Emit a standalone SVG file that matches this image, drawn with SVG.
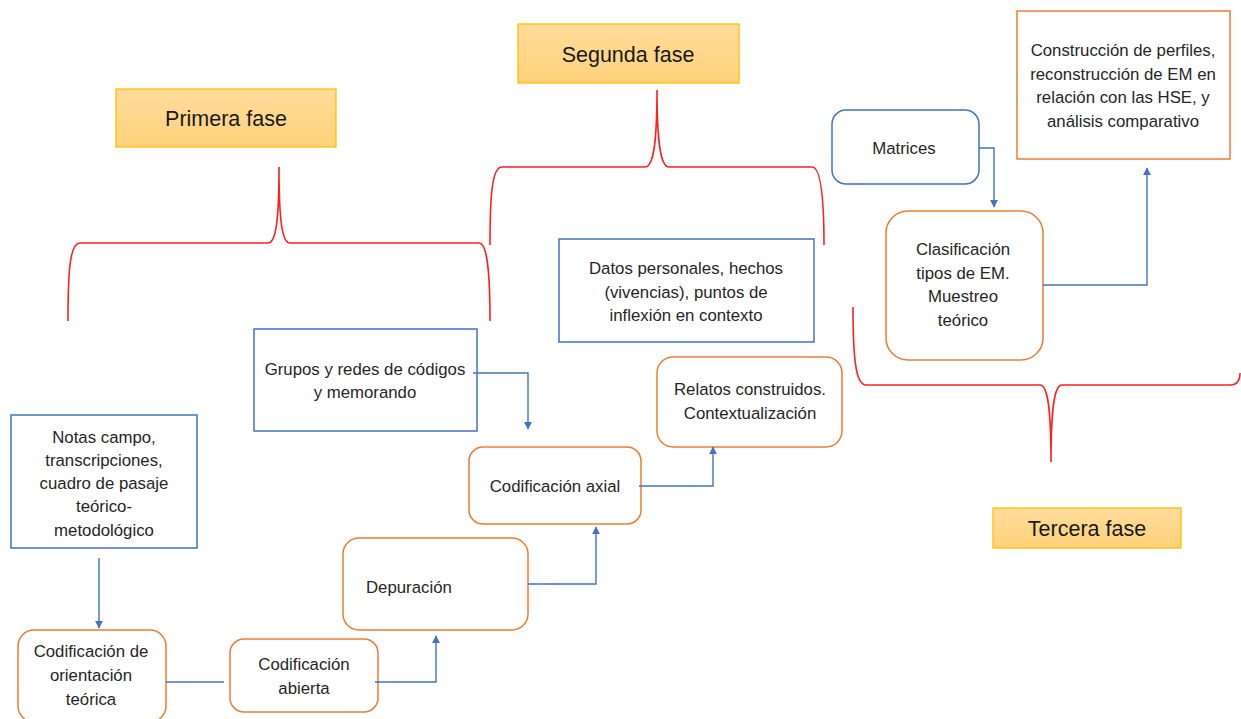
<svg xmlns="http://www.w3.org/2000/svg" width="1241" height="719" viewBox="0 0 1241 719">
<defs>
<linearGradient id="gold" x1="0" y1="0" x2="0" y2="1">
<stop offset="0" stop-color="#FFDC9C"/>
<stop offset="1" stop-color="#FFD27A"/>
</linearGradient>
<marker id="arr" viewBox="0 0 10 10" refX="9" refY="5" markerWidth="8" markerHeight="8" markerUnits="userSpaceOnUse" orient="auto">
<path d="M0,0 L10,5 L0,10 z" fill="#4472C4"/>
</marker>
</defs>
<style>
text{font-family:"Liberation Sans",Arial,sans-serif;font-size:16.8px;fill:#262626;text-anchor:middle;}
.phase rect{fill:url(#gold);stroke:#FFC000;stroke-width:1.3;}
.phase text{font-size:21.5px;fill:#1a1a1a;}
.blue{fill:#fff;stroke:#4472C4;stroke-width:1.5;}
.orange{fill:#fff;stroke:#ED7D31;stroke-width:1.5;}
.brace{fill:none;stroke:#FF2020;stroke-width:1.6;}
.conn{fill:none;stroke:#4472C4;stroke-width:1.4;}
</style>
<rect width="1241" height="719" fill="#fff"/>

<g id="braces">
<path class="brace" d="M68,321 C68,270 70,243 80,243 L268,243 C276,243 279,220 279,167 C279,220 282,243 290,243 L479,243 C487,243 490,270 490,321"/>
<path class="brace" d="M490,245 C490,195 492,167 502,167 L645,167 C653,167 657,145 657,90 C657,145 661,167 669,167 L812,167 C820,167 824,195 824,245"/>
<path class="brace" d="M853,307 C853,360 856,385 866,385 L1040,385 C1048,385 1051,410 1051,462 C1051,410 1054,385 1062,385 L1230,385 C1237,385 1240,380 1240,373"/>
</g>

<g id="primera-fase" class="phase">
<rect x="116" y="89" width="220" height="58"/>
<text x="226" y="126">Primera fase</text>
</g>
<g id="segunda-fase" class="phase">
<rect x="518" y="24" width="221" height="59"/>
<text x="628" y="62">Segunda fase</text>
</g>
<g id="tercera-fase" class="phase">
<rect x="993" y="508" width="188" height="40"/>
<text x="1087" y="536">Tercera fase</text>
</g>

<g id="notas">
<rect class="blue" x="11" y="415" width="186" height="133"/>
<text x="104" y="443">Notas campo,</text>
<text x="104" y="466">transcripciones,</text>
<text x="104" y="489">cuadro de pasaje</text>
<text x="104" y="512">teórico-</text>
<text x="104" y="536">metodológico</text>
</g>

<g id="cod-orientacion">
<rect class="orange" x="18" y="630" width="148" height="92" rx="16"/>
<text x="91" y="657">Codificación de</text>
<text x="91" y="681">orientación</text>
<text x="91" y="705">teórica</text>
</g>

<g id="cod-abierta">
<rect class="orange" x="230" y="639" width="148" height="73" rx="14"/>
<text x="304" y="670">Codificación</text>
<text x="304" y="694">abierta</text>
</g>

<g id="depuracion">
<rect class="orange" x="343" y="538" width="185" height="92" rx="16"/>
<text x="366" y="593" style="text-anchor:start">Depuración</text>
</g>

<g id="grupos">
<rect class="blue" x="254" y="329" width="223" height="102"/>
<text x="365" y="375">Grupos y redes de códigos</text>
<text x="365" y="398">y memorando</text>
</g>

<g id="cod-axial">
<rect class="orange" x="469" y="447" width="172" height="77" rx="14"/>
<text x="555" y="492">Codificación axial</text>
</g>

<g id="relatos">
<rect class="orange" x="657" y="357" width="185" height="90" rx="16"/>
<text x="750" y="395">Relatos construidos.</text>
<text x="750" y="419">Contextualización</text>
</g>

<g id="datos">
<rect class="blue" x="559" y="239" width="255" height="103"/>
<text x="686" y="274">Datos personales, hechos</text>
<text x="686" y="298">(vivencias), puntos de</text>
<text x="686" y="321">inflexión en contexto</text>
</g>

<g id="matrices">
<rect class="blue" x="832" y="110" width="147" height="74" rx="14"/>
<text x="904" y="154">Matrices</text>
</g>

<g id="clasificacion">
<rect class="orange" x="886" y="211" width="157" height="149" rx="22"/>
<text x="963" y="255">Clasificación</text>
<text x="963" y="279">tipos de EM.</text>
<text x="963" y="302">Muestreo</text>
<text x="963" y="326">teórico</text>
</g>

<g id="construccion">
<rect class="orange" x="1017" y="11" width="213" height="148"/>
<text x="1123" y="56">Construcción de perfiles,</text>
<text x="1123" y="80">reconstrucción de EM en</text>
<text x="1123" y="103">relación con las HSE, y</text>
<text x="1123" y="127">análisis comparativo</text>
</g>

<g id="connectors">
<path class="conn" d="M99,558 L99,628" marker-end="url(#arr)"/>
<path class="conn" d="M166,682 L224,682"/>
<path class="conn" d="M375,682 L436,682 L436,636" marker-end="url(#arr)"/>
<path class="conn" d="M528,584 L596,584 L596,527" marker-end="url(#arr)"/>
<path class="conn" d="M473,373 L528,373 L528,429" marker-end="url(#arr)"/>
<path class="conn" d="M639,486 L713,486 L713,447" marker-end="url(#arr)"/>
<path class="conn" d="M979,148 L994,148 L994,207" marker-end="url(#arr)"/>
<path class="conn" d="M1043,285 L1147,285 L1147,168" marker-end="url(#arr)"/>
</g>
</svg>
